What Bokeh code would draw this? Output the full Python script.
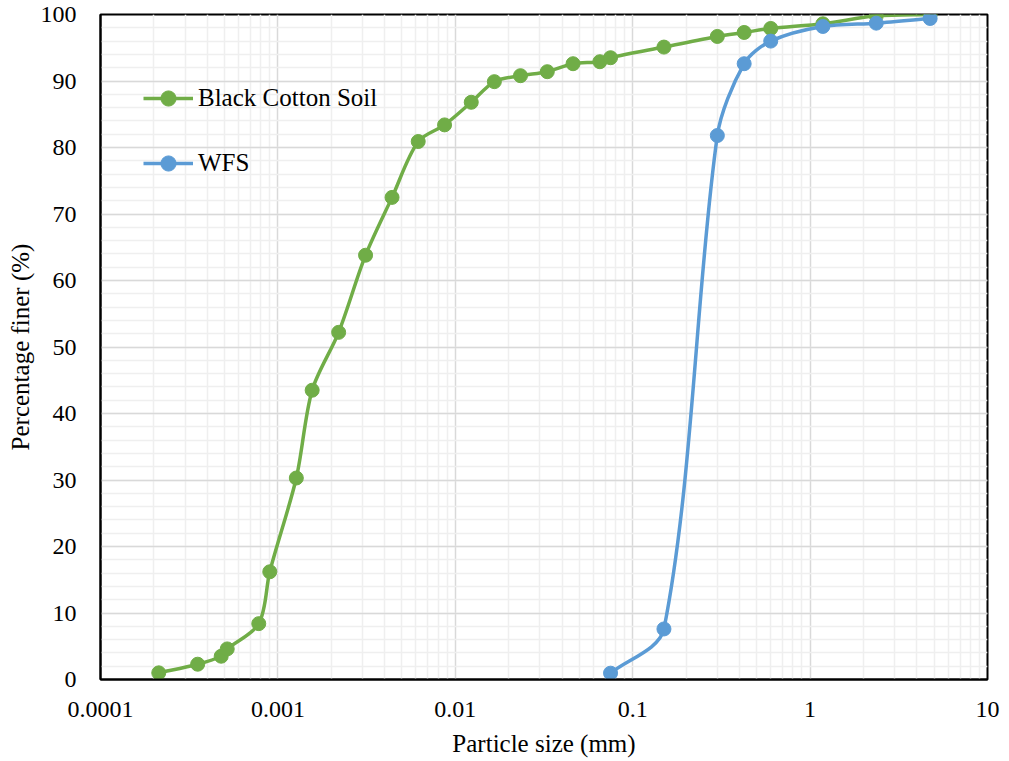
import numpy as np
from bokeh.plotting import figure
from bokeh.models import (FixedTicker, Legend, LegendItem, ColumnDataSource, Range1d)
from bokeh.embed import file_html
from bokeh.resources import INLINE

# ---- data ----
bcs_size = [0.000213, 0.000353, 0.000479, 0.000518, 0.00078, 0.0009, 0.00127, 0.00156,
            0.0022, 0.00312, 0.0044, 0.00618, 0.0087, 0.0123, 0.0166, 0.0233, 0.033,
            0.0461, 0.0653, 0.075, 0.15, 0.3, 0.425, 0.6, 1.18, 2.36, 4.75]
bcs_finer = [1.0, 2.3, 3.5, 4.6, 8.4, 16.2, 30.3, 43.5, 52.2, 63.8, 72.5, 80.9, 83.4,
             86.8, 89.9, 90.8, 91.4, 92.6, 92.9, 93.5, 95.1, 96.7, 97.3, 97.9, 98.6, 99.8, 100.0]
wfs_size = [0.075, 0.15, 0.3, 0.425, 0.6, 1.18, 2.36, 4.75]
wfs_finer = [0.95, 7.6, 81.8, 92.6, 96.0, 98.2, 98.7, 99.4]

x_ticks = [0.0001, 0.001, 0.01, 0.1, 1, 10]
x_tick_labels = ["0.0001", "0.001", "0.01", "0.1", "1", "10"]
y_ticks = [0, 10, 20, 30, 40, 50, 60, 70, 80, 90, 100]

GREEN = "#70AD47"
BLUE = "#5B9BD5"
FONT = "Liberation Serif"

FRAME_W, FRAME_H = 887, 665
X_LO, X_HI, Y_LO, Y_HI = 0.0001, 10, 0, 100
SX = FRAME_W / (np.log10(X_HI) - np.log10(X_LO))   # px per decade
SY = FRAME_H / (Y_HI - Y_LO)                        # px per unit


def smooth_segments(xs, ys, k=0.3):
    """Smoothed-line cubic Bezier segments (tangent scaled by adjacent
    segment length, as spreadsheet smoothed lines do), in screen space."""
    px = np.log10(np.asarray(xs, float)) * SX
    py = np.asarray(ys, float) * SY
    P = np.stack([px, py], axis=1)
    n = len(P)
    T = []
    for i in range(n):
        a = P[max(i - 1, 0)]
        b = P[min(i + 1, n - 1)]
        v = b - a
        T.append(v / (np.hypot(*v) or 1.0))
    d = dict(x0=[], y0=[], x1=[], y1=[], cx0=[], cy0=[], cx1=[], cy1=[])
    for i in range(n - 1):
        L = np.hypot(*(P[i + 1] - P[i]))
        c0 = P[i] + T[i] * L * k
        c1 = P[i + 1] - T[i + 1] * L * k
        for key, pt in (("0", P[i]), ("1", P[i + 1])):
            d["x" + key].append(10 ** (pt[0] / SX)); d["y" + key].append(pt[1] / SY)
        d["cx0"].append(10 ** (c0[0] / SX)); d["cy0"].append(c0[1] / SY)
        d["cx1"].append(10 ** (c1[0] / SX)); d["cy1"].append(c1[1] / SY)
    return ColumnDataSource(d)


p = figure(frame_width=FRAME_W, frame_height=FRAME_H, x_axis_type="log",
           x_range=Range1d(X_LO, X_HI), y_range=Range1d(Y_LO, Y_HI),
           output_backend="svg", toolbar_location=None,
           min_border_left=100, min_border_right=22, min_border_top=14, min_border_bottom=82)

p.background_fill_color = "white"
p.border_fill_color = "white"
p.outline_line_color = "black"
p.outline_line_width = 2

# ticks
minor_x = [m * 10.0 ** k for k in range(-4, 1) for m in range(2, 10)]
p.xaxis.ticker = FixedTicker(ticks=x_ticks, minor_ticks=minor_x)
p.xaxis.major_label_overrides = {t: l for t, l in zip(x_ticks, x_tick_labels)}
p.yaxis.ticker = FixedTicker(ticks=y_ticks, minor_ticks=list(range(0, 101, 2)))

for ax in (p.xaxis[0], p.yaxis[0]):
    ax.axis_line_color = "black"
    ax.axis_line_width = 2
    ax.major_tick_line_color = None
    ax.minor_tick_line_color = None
    ax.major_label_text_font = FONT
    ax.major_label_text_font_size = "24px"
    ax.major_label_text_color = "black"
    ax.axis_label_text_font = FONT
    ax.axis_label_text_font_size = "25px"
    ax.axis_label_text_font_style = "normal"
    ax.axis_label_text_color = "black"

p.xaxis.axis_label = "Particle size (mm)"
p.yaxis.axis_label = "Percentage finer (%)"
p.xaxis.major_label_standoff = 16
p.yaxis.major_label_standoff = 18
p.xaxis.axis_label_standoff = 10
p.yaxis.axis_label_standoff = 4

# grids
for g in (p.xgrid[0], p.ygrid[0]):
    g.grid_line_color = "#d9d9d9"
    g.grid_line_width = 1.5
    g.minor_grid_line_color = "#efefef"
    g.minor_grid_line_width = 1.5

# series
src_g = smooth_segments(bcs_size, bcs_finer)
src_b = smooth_segments(wfs_size, wfs_finer)

bz_g = p.bezier(x0="x0", y0="y0", x1="x1", y1="y1", cx0="cx0", cy0="cy0", cx1="cx1", cy1="cy1",
                source=src_g, line_color=GREEN, line_width=3.5)
sc_g = p.scatter(bcs_size, bcs_finer, size=14, marker="circle", fill_color=GREEN, line_color=GREEN)

bz_b = p.bezier(x0="x0", y0="y0", x1="x1", y1="y1", cx0="cx0", cy0="cy0", cx1="cx1", cy1="cy1",
                source=src_b, line_color=BLUE, line_width=3.5)
sc_b = p.scatter(wfs_size, wfs_finer, size=14, marker="circle", fill_color=BLUE, line_color=BLUE)

legend = Legend(items=[LegendItem(label="Black Cotton Soil", renderers=[bz_g, sc_g]),
                       LegendItem(label="WFS", renderers=[bz_b, sc_b])],
                location=(43, 497))
legend.glyph_width = 50
legend.glyph_height = 38
legend.label_height = 38
legend.spacing = 27
legend.padding = 0
legend.margin = 0
legend.label_standoff = 5
legend.label_text_font = FONT
legend.label_text_font_size = "25px"
legend.label_text_color = "black"
legend.background_fill_alpha = 0
legend.border_line_color = None
p.add_layout(legend, "center")

open("out.html", "w").write(file_html(p, INLINE))
